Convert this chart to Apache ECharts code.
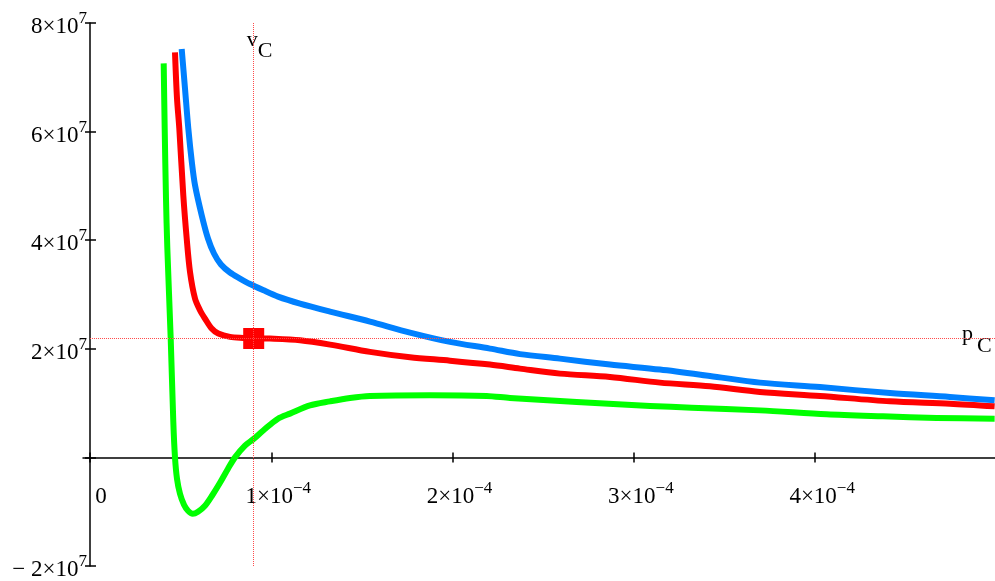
<!DOCTYPE html>
<html><head><meta charset="utf-8">
<script src="https://cdn.jsdelivr.net/npm/echarts@6/dist/echarts.min.js"></script>
<style>html,body{margin:0;padding:0;background:#fff}#c{width:995px;height:581px}</style>
</head><body><div id="c"></div>
<script>
// units: v in 1e-4, p in 1e7
const V_UNIT = 1e-4, P_UNIT = 1e7;

const greenV = [0.4065,0.4120,0.4192,0.4264,0.4452,0.4595,0.4688,0.4799,0.4964,0.5185,0.5405,0.5665,0.5957,0.6343,0.6729,0.7170,0.7612,0.7998,0.8549,0.9046,0.9542,1.0370,1.1031,1.2134,1.3238,1.4341,1.5444,1.875,2.1881,2.3166,2.6845,3.0888,3.3188,3.6955,4.0634,4.3739,4.6701,4.99];
const greenP = [7.257,6.059,4.769,3.865,2.188,0.658,0,-0.393,-0.669,-0.872,-0.982,-1.038,-1.001,-0.890,-0.706,-0.467,-0.208,0,0.216,0.345,0.492,0.713,0.806,0.958,1.032,1.095,1.132,1.146,1.132,1.095,1.021,0.947,0.916,0.866,0.793,0.756,0.726,0.713];

const redV = [0.4688,0.4799,0.4926,0.5146,0.5334,0.5516,0.5792,0.6067,0.6343,0.6713,0.7077,0.7722,0.8456,0.9046,0.9928,1.1583,1.3238,1.5444,1.7650,1.9857,2.2063,2.3718,2.5924,2.8682,3.1439,3.4197,3.6955,4.0265,4.4126,4.7435,4.99];
const redP = [7.460,6.612,6.059,4.829,4.031,3.417,2.925,2.710,2.557,2.373,2.280,2.219,2.201,2.193,2.188,2.157,2.077,1.943,1.843,1.782,1.709,1.635,1.543,1.482,1.377,1.309,1.206,1.132,1.032,0.990,0.940];

const blueV = [0.5058,0.5240,0.5422,0.5626,0.5792,0.6161,0.6508,0.6839,0.7225,0.7722,0.8274,0.8825,0.9542,1.0370,1.1583,1.3238,1.5444,1.7650,1.9857,2.2063,2.3718,2.5924,2.8682,3.1439,3.4197,3.6955,4.0265,4.4126,4.7435,4.99];
const blueP = [7.521,6.796,6.059,5.414,5.014,4.461,4.031,3.755,3.552,3.405,3.294,3.193,3.082,2.962,2.833,2.686,2.501,2.299,2.127,2.004,1.902,1.819,1.709,1.617,1.500,1.377,1.295,1.184,1.113,1.051];

const vC = 0.903, pC = 2.19;

const xTickValues = [0,1,2,3,4];
const yTickValues = [-2,0,2,4,6,8];
const yLabelValues = [-2,2,4,6,8];
const xMin = -0.0386, xMax = 4.992, yMin = -2, yMax = 8;

const FONT = "'Liberation Serif','DejaVu Serif',serif";
function pairs(vs, ps){ return vs.map((v,i)=>[v*V_UNIT, ps[i]*P_UNIT]); }

const chart = echarts.init(document.getElementById('c'));
const axisLineStyle = {color:'#000', width:1.5};
const commonX = {type:'value', min:xMin*V_UNIT, max:xMax*V_UNIT, splitLine:{show:false}};
const commonY = {type:'value', min:yMin*P_UNIT, max:yMax*P_UNIT, splitLine:{show:false}};

chart.setOption({
  animation:false,
  backgroundColor:'#fff',
  grid:{left:83, right:0, top:23, height:543, containLabel:false, outerBoundsMode:'none'},
  xAxis:[
    Object.assign({}, commonX, {
      position:'bottom',
      axisLine:{show:true, onZero:true, onZeroAxisIndex:0, lineStyle:axisLineStyle},
      axisTick:{show:true, length:5, lineStyle:{color:'#000', width:1.5}, customValues:xTickValues.map(v=>v*V_UNIT)},
      axisLabel:{show:true, customValues:xTickValues.map(v=>v*V_UNIT), margin:-86, padding:[0,0,0,14],
        fontFamily:FONT, fontSize:23, color:'#000', hideOverlap:false,
        formatter:(val)=>{const k=Math.round(val/V_UNIT); return k===0?'{z|0}':'{m|'+k+'×10}{s|−4}';},
        rich:{
          m:{fontFamily:FONT, fontSize:23, lineHeight:34, color:'#000'},
          s:{fontFamily:FONT, fontSize:17, lineHeight:10, verticalAlign:'top', color:'#000'},
          z:{fontFamily:FONT, fontSize:23, lineHeight:34, color:'#000', padding:[0,0,0,8]}
        }}
    }),
    Object.assign({}, commonX, {
      position:'top',
      axisLine:{show:false, onZero:true, onZeroAxisIndex:0},
      axisTick:{show:true, length:5, lineStyle:{color:'#000', width:1.5}, customValues:xTickValues.map(v=>v*V_UNIT)},
      axisLabel:{show:false}
    })
  ],
  yAxis:[
    Object.assign({}, commonY, {
      position:'left',
      axisLine:{show:true, onZero:true, onZeroAxisIndex:0, lineStyle:axisLineStyle},
      axisTick:{show:true, length:5, lineStyle:{color:'#000', width:1.5}, customValues:yTickValues.map(v=>v*P_UNIT)},
      axisLabel:{show:true, customValues:yLabelValues.map(v=>v*P_UNIT), margin:-4, padding:[8,0,0,0],
        fontFamily:FONT, fontSize:23, color:'#000', hideOverlap:false,
        formatter:(val)=>{const k=Math.round(val/P_UNIT); return k<0?'{m|− '+(-k)+'×10}{s|7}':'{m|'+k+'×10}{s|7}';},
        rich:{
          m:{fontFamily:FONT, fontSize:23, lineHeight:34, color:'#000'},
          s:{fontFamily:FONT, fontSize:17, lineHeight:10, verticalAlign:'top', color:'#000'}
        }}
    }),
    Object.assign({}, commonY, {
      position:'right',
      axisLine:{show:false, onZero:true, onZeroAxisIndex:0},
      axisTick:{show:true, length:6, lineStyle:{color:'#000', width:1.5}, customValues:yTickValues.map(v=>v*P_UNIT)},
      axisLabel:{show:false}
    })
  ],
  series:[
    {type:'line', name:'T1', data:pairs(greenV, greenP), showSymbol:false, smooth:0.3, lineStyle:{color:'#00ff00', width:6, cap:'butt', join:'round'}, z:3},
    {type:'line', name:'Tc', data:pairs(redV, redP), showSymbol:false, smooth:0.3, lineStyle:{color:'#ff0000', width:6, cap:'butt', join:'round'}, z:3},
    {type:'line', name:'T2', data:pairs(blueV, blueP), showSymbol:false, smooth:0.3, lineStyle:{color:'#0080ff', width:6, cap:'butt', join:'round'}, z:3},
    {type:'scatter', name:'critical', data:[[vC*V_UNIT, pC*P_UNIT]], symbol:'rect', symbolSize:21, itemStyle:{color:'#ff0000', opacity:1}, z:4,
      markLine:{silent:true, symbol:'none', label:{show:false},
        lineStyle:{color:'#ff4a4a', width:1, type:[1,1], opacity:1},
        data:[
          [{coord:[vC*V_UNIT, yMin*P_UNIT]},{coord:[vC*V_UNIT, yMax*P_UNIT]}],
          [{coord:[0, pC*P_UNIT]},{coord:[xMax*V_UNIT, pC*P_UNIT]}]
        ]}}
  ]
});

const vTop = chart.convertToPixel({gridIndex:0}, [vC*V_UNIT, yMax*P_UNIT]);
const pRight = chart.convertToPixel({gridIndex:0}, [xMax*V_UNIT, pC*P_UNIT]);
const ts = {fontFamily:FONT, fontSize:22, fill:'#000', verticalAlign:'middle', align:'left'};
chart.setOption({graphic:[
  {type:'text', x:vTop[0]-7, y:vTop[1]+17, style:Object.assign({text:'v'}, ts)},
  {type:'text', x:vTop[0]+4, y:vTop[1]+28, style:Object.assign({text:'C'}, ts)},
  {type:'text', x:pRight[0]-33, y:pRight[1]-4, style:Object.assign({text:'p'}, ts)},
  {type:'text', x:pRight[0]-18, y:pRight[1]+8, style:Object.assign({text:'C'}, ts)}
]});
</script></body></html>
